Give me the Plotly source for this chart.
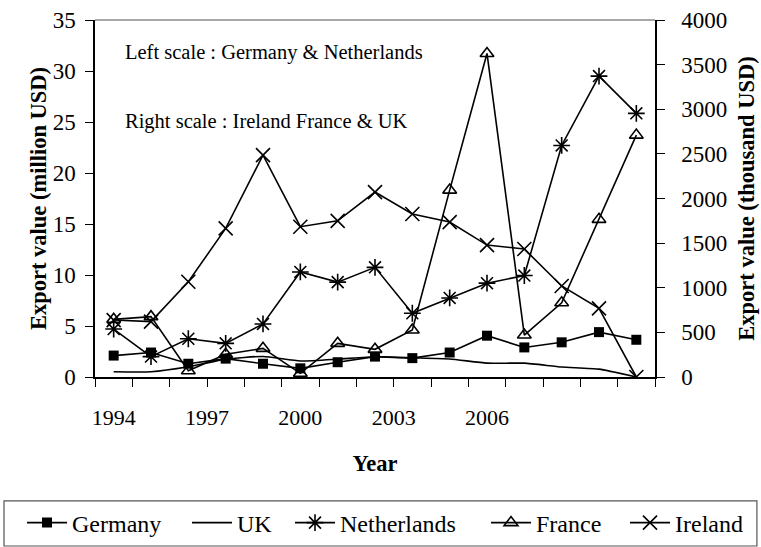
import plotly.graph_objects as go

years = list(range(1994, 2009))
germany = [2.1, 2.4, 1.3, 1.8, 1.3, 0.85, 1.45, 2.0, 1.85, 2.4, 4.05, 2.9, 3.4, 4.4, 3.65]
netherlands = [4.7, 2.0, 3.75, 3.3, 5.2, 10.3, 9.3, 10.75, 6.25, 7.75, 9.2, 9.95, 22.7, 29.5, 25.85]
uk = [59, 59, 115, 200, 230, 180, 200, 227, 215, 202, 155, 155, 112, 88, 0]
france = [646, 676, 70, 255, 321, 41, 377, 310, 526, 2094, 3625, 470, 832, 1766, 2710]
ireland = [638, 620, 1067, 1665, 2486, 1684, 1750, 2072, 1826, 1736, 1478, 1434, 1020, 769, 0]

label_pos = [1994, 1996.5, 1999, 2001.5, 2004]
label_text = ["1994", "1997", "2000", "2003", "2006"]
left_ticks = [0, 5, 10, 15, 20, 25, 30, 35]
right_ticks = [0, 500, 1000, 1500, 2000, 2500, 3000, 3500, 4000]

FONT = "Times New Roman, Liberation Serif, serif"
LW = 1.6
fig = go.Figure()
fig.add_trace(go.Scatter(x=years, y=germany, name="Germany", mode="lines+markers", legend="legend",
                         line=dict(color="black", width=LW),
                         marker=dict(symbol="square", size=10, color="black")))
fig.add_trace(go.Scatter(x=years, y=uk, name="UK", mode="lines", yaxis="y2", legend="legend2",
                         line=dict(color="black", width=LW, shape="spline", smoothing=0.5)))
fig.add_trace(go.Scatter(x=years, y=netherlands, name="Netherlands", mode="lines+markers",
                         legend="legend3", line=dict(color="black", width=LW),
                         marker=dict(symbol="asterisk-open", size=14, line=dict(color="black", width=1.6))))
fig.add_trace(go.Scatter(x=years, y=france, name="France", mode="lines+markers", yaxis="y2",
                         legend="legend4", line=dict(color="black", width=LW),
                         marker=dict(symbol="triangle-up-open", size=12, color="black",
                                     line=dict(color="black", width=1.6))))
fig.add_trace(go.Scatter(x=years, y=ireland, name="Ireland", mode="lines+markers", yaxis="y2",
                         legend="legend5", line=dict(color="black", width=LW),
                         marker=dict(symbol="x-thin-open", size=14, line=dict(color="black", width=1.6))))

xr = [1993.5, 2008.5]
bounds = [1993.5 + i for i in range(16)]
xtickfont = dict(family=FONT, size=22, color="black")
ytickfont = dict(family=FONT, size=23, color="black")
titlefont = dict(family=FONT, size=22.5, color="black", weight="bold")


def leg(px):
    return dict(orientation="h", x=(px - 95) / 560, xanchor="left", y=-0.409, yanchor="middle",
                font=dict(family=FONT, size=24, color="black"), bgcolor="rgba(0,0,0,0)",
                itemwidth=40, borderwidth=0)


fig.update_layout(
    width=761, height=547,
    margin=dict(l=95, r=106, t=20, b=170, autoexpand=False),
    paper_bgcolor="white", plot_bgcolor="white",
    font=dict(family=FONT, color="black"),
    showlegend=True,
    legend=leg(22), legend2=leg(187), legend3=leg(290), legend4=leg(486), legend5=leg(625),
    xaxis=dict(range=xr, tickmode="array", tickvals=label_pos, ticktext=label_text,
               ticks="", showgrid=False, zeroline=False, showline=True, linecolor="black",
               linewidth=1.5, tickfont=xtickfont, ticklabelstandoff=20,
               minor=dict(tickmode="array", tickvals=bounds, ticks="outside", ticklen=8,
                          tickcolor="black", tickwidth=1.2, showgrid=False),
               title=dict(text="Year", font=titlefont, standoff=26)),
    yaxis=dict(range=[0, 35], tickmode="array", tickvals=left_ticks, ticks="outside", ticklen=8,
               tickcolor="black", tickwidth=1.2, showgrid=False, zeroline=False, showline=True,
               linecolor="black", linewidth=1.5, tickfont=ytickfont, ticklabelstandoff=5,
               title=dict(text="Export value (million USD)", font=titlefont, standoff=0)),
    yaxis2=dict(range=[0, 4000], overlaying="y", side="right", anchor="x", tickmode="array",
                tickvals=right_ticks, ticks="outside", ticklen=8, tickcolor="black", tickwidth=1.2,
                showgrid=False, zeroline=False, showline=True, linecolor="black", linewidth=1.5,
                tickfont=ytickfont, ticklabelstandoff=12,
                title=dict(text="Export value (thousand USD)", font=titlefont, standoff=12)),
    xaxis2=dict(range=xr, overlaying="x", anchor="y", side="bottom", tickmode="array",
                tickvals=bounds, ticks="inside", ticklen=8, tickcolor="black", tickwidth=1.2,
                showticklabels=False, showgrid=False, zeroline=False, showline=False),
    yaxis3=dict(range=[0, 35], overlaying="y", anchor="x", side="left", tickmode="array",
                tickvals=left_ticks, ticks="inside", ticklen=8, tickcolor="black", tickwidth=1.2,
                showticklabels=False, showgrid=False, zeroline=False, showline=False),
    yaxis4=dict(range=[0, 4000], overlaying="y", anchor="x", side="right", tickmode="array",
                tickvals=right_ticks, ticks="inside", ticklen=8, tickcolor="black", tickwidth=1.2,
                showticklabels=False, showgrid=False, zeroline=False, showline=False),
)

fig.add_shape(type="line", xref="paper", yref="paper", x0=0, x1=1, y0=1, y1=1,
              line=dict(color="#8a8a8a", width=1.5))
fig.add_shape(type="rect", xref="paper", yref="paper", x0=-0.1625, x1=1.182, y0=-0.4734, y1=-0.347,
              line=dict(color="#555555", width=1.2), fillcolor="rgba(0,0,0,0)")

fig.add_annotation(text="Left scale : Germany &amp; Netherlands", xref="paper", yref="paper",
                   x=0.05, y=0.910, xanchor="left", yanchor="middle", showarrow=False,
                   font=dict(family=FONT, size=20.5, color="black"))
fig.add_annotation(text="Right scale : Ireland France &amp; UK", xref="paper", yref="paper",
                   x=0.05, y=0.717, xanchor="left", yanchor="middle", showarrow=False,
                   font=dict(family=FONT, size=20.5, color="black"))

fig.write_html("out.html", config={"displayModeBar": False},
               post_script="document.body.style.margin='0px';")
